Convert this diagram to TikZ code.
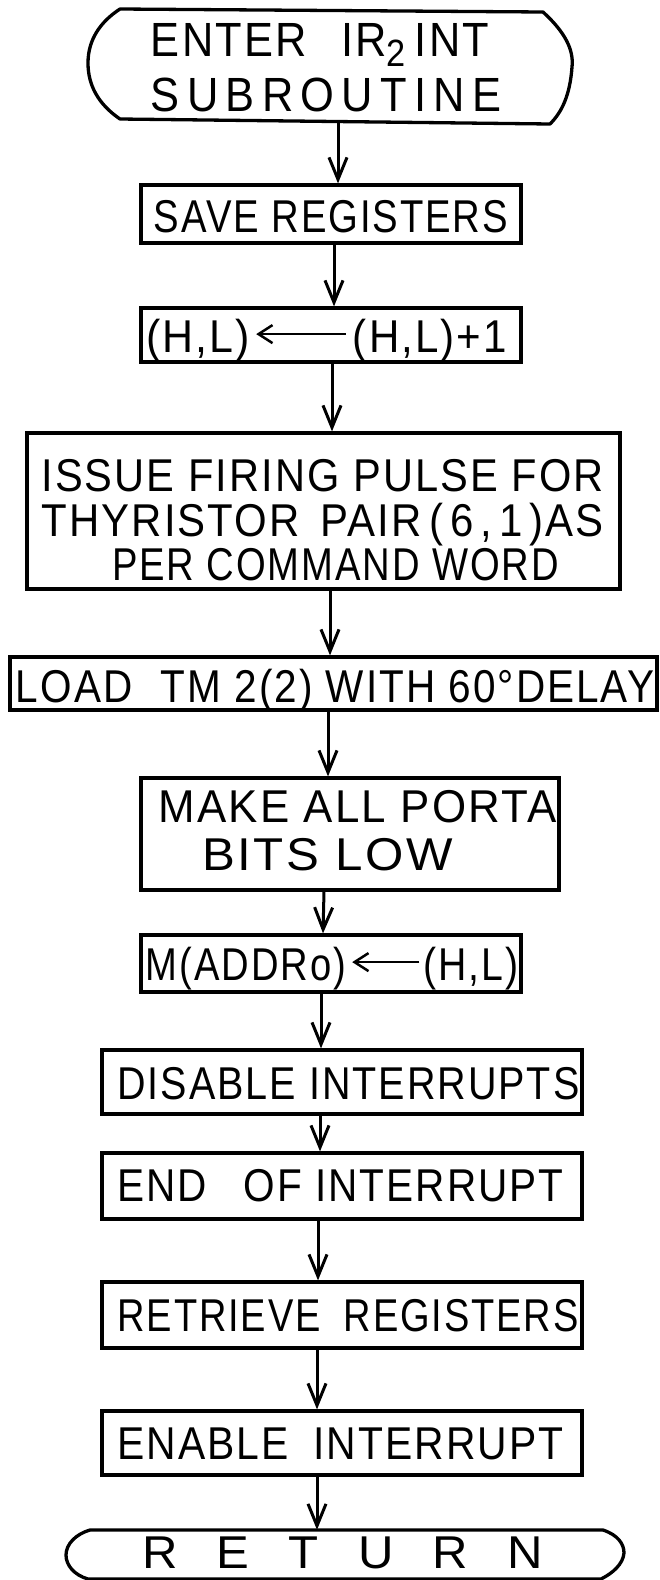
\documentclass[tikz,border=0pt]{standalone}
\usepackage{fontspec}
\setmainfont{Liberation Sans}[LetterSpace=5]
\usepackage{graphicx}
\usetikzlibrary{arrows.meta}
% set a line of lettering to a given width, keeping its natural height
\newcommand\fw[2]{\resizebox{#1pt}{\height}{#2}}

\begin{document}
\begin{tikzpicture}[x=1pt,y=-1pt,
  box/.style={draw, line width=3.3pt, rectangle, inner sep=0pt},
  hold/.style={rectangle, inner sep=0pt},
  lbl/.style={inner sep=0pt, anchor=base, font=\fontsize{46}{50}\selectfont},
  arr/.style={line width=3pt, -{Straight Barb[length=22pt,width=18pt]}},
  tarr/.style={line width=2.5pt, -{Straight Barb[length=14pt,width=18pt]}},
  term/.style={line width=3.3pt, line join=round}]

\fill[white] (0,0) rectangle (660,1580);
\useasboundingbox (0,0) rectangle (660,1580);

% ---- start terminal ----
\node[hold, minimum width=479pt, minimum height=113pt] (start) at (332,65) {};
\draw[term] (120,9) -- (543,12)
  .. controls (565,32) and (574,50) .. (572,67)
  .. controls (570,95) and (562,112) .. (550,124)
  -- (120,119)
  .. controls (98,104) and (88,85) .. (88,63)
  .. controls (88,40) and (100,22) .. (120,9) -- cycle;
\node[lbl, font=\fontsize{48}{50}\selectfont] (t1) at (320,56) {\fw{338}{ENTER\hspace{0.8em}IR\raisebox{-0.22em}{\fontsize{38}{38}\selectfont 2}\hspace{0.2em}INT}};
\node[lbl, font=\fontsize{48}{50}\selectfont] (t2) at (326,111) {\fw{350}{S\,U\,B\,R\,O\,U\,T\,I\,N\,E}};

% ---- process boxes ----
\node[box, minimum width=380pt, minimum height=58pt] (save) at (331,214) {};
\node[lbl] (t3) at (331,232) {\fw{354}{SAVE REGISTERS}};

\node[box, minimum width=380pt, minimum height=54pt] (hl) at (331,335) {};
\node[lbl] (hla) at (198,352) {\fw{104}{(H,L)}};
\node[lbl] (hlb) at (430,352) {\fw{154}{(H,L)+1}};
\draw[tarr] ([xshift=-7pt,yshift=6pt]hlb.west) -- ([xshift=6pt,yshift=6pt]hla.east);

\node[box, minimum width=593pt, minimum height=156pt] (issue) at (323.5,511) {};
\node[lbl] (t4) at (322.5,491) {\fw{562}{ISSUE FIRING PULSE FOR}};
\node[lbl] (t5) at (322.5,536) {\fw{562}{THYRISTOR\hspace{0.5em}PAIR\,(\,6\,,\,1\,)AS}};
\node[lbl] (t6) at (335.5,580) {\fw{447}{PER COMMAND WORD}};

\node[box, minimum width=647pt, minimum height=53pt] (load) at (333.5,683.5) {};
\node[lbl] (t7) at (335,702) {\fw{638}{LOAD\hspace{0.7em}TM 2(2) WITH 60°DELAY}};

\node[box, minimum width=418pt, minimum height=112pt] (make) at (350,834) {};
\node[lbl] (t8) at (357.5,822) {\fw{398}{MAKE ALL PORTA}};
\node[lbl] (t9) at (327.5,870) {\fw{250}{BITS LOW}};

\node[box, minimum width=380pt, minimum height=57pt] (maddr) at (331,963.5) {};
\node[lbl] (ma) at (246,980) {\fw{200}{M(ADDRo)}};
\node[lbl] (mb) at (471,980) {\fw{95}{(H,L)}};
\draw[tarr] ([xshift=-4pt,yshift=6pt]mb.west) -- ([xshift=6pt,yshift=6pt]ma.east);

\node[box, minimum width=480pt, minimum height=64pt] (dis) at (342,1082) {};
\node[lbl] (t10) at (348.5,1099) {\fw{462}{DISABLE INTERRUPTS}};

\node[box, minimum width=480pt, minimum height=66pt] (eoi) at (342,1186) {};
\node[lbl] (t11) at (340.5,1201) {\fw{446}{END\hspace{0.9em}OF INTERRUPT}};

\node[box, minimum width=480pt, minimum height=66pt] (ret) at (342,1315) {};
\node[lbl] (t12) at (348,1331) {\fw{461}{RETRIEVE\hspace{0.6em}REGISTERS}};

\node[box, minimum width=480pt, minimum height=64pt] (ena) at (342,1443) {};
\node[lbl] (t13) at (340.5,1459) {\fw{446}{ENABLE\hspace{0.6em}INTERRUPT}};

% ---- return terminal ----
\node[hold, minimum width=558pt, minimum height=50pt] (fin) at (345,1555) {};
\draw[term] (90,1530) -- (603,1530)
  .. controls (618,1535) and (624,1544) .. (624,1553)
  .. controls (623,1564) and (613,1573) .. (601,1579)
  -- (88,1579)
  .. controls (74,1575) and (66,1565) .. (66,1555)
  .. controls (66,1544) and (76,1534) .. (90,1530) -- cycle;
\node[lbl] (t14) at (342.5,1568) {\fw{401}{R\hspace{0.8em}E\hspace{0.8em}T\hspace{0.8em}U\hspace{0.8em}R\hspace{0.8em}N}};

% ---- flow connectors ----
\draw[arr] ([xshift=6pt]start.south) -- ([xshift=7pt]save.north);
\draw[arr] ([xshift=3pt]save.south) -- ([xshift=3pt]hl.north);
\draw[arr] ([xshift=1pt]hl.south) -- ([xshift=8.5pt]issue.north);
\draw[arr] ([xshift=6.5pt]issue.south) -- ([xshift=-3.5pt]load.north);
\draw[arr] ([xshift=-5.5pt]load.south) -- ([xshift=-22pt]make.north);
\draw[arr] ([xshift=-26pt]make.south) -- ([xshift=-8pt]maddr.north);
\draw[arr] ([xshift=-10pt]maddr.south) -- ([xshift=-21pt]dis.north);
\draw[arr] ([xshift=-22pt]dis.south) -- ([xshift=-22pt]eoi.north);
\draw[arr] ([xshift=-24pt]eoi.south) -- ([xshift=-24pt]ret.north);
\draw[arr] ([xshift=-25pt]ret.south) -- ([xshift=-25pt]ena.north);
\draw[arr] ([xshift=-25pt]ena.south) -- ([xshift=-28pt]fin.north);
\end{tikzpicture}
\end{document}
